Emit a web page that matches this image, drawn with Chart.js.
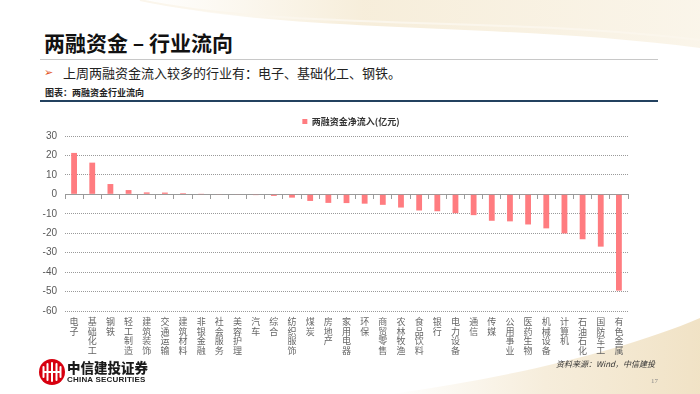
<!DOCTYPE html>
<html>
<head>
<meta charset="utf-8">
<script src="https://cdn.jsdelivr.net/npm/chart.js@4"></script>
<style>
  html, body { margin: 0; padding: 0; }
  body { width: 700px; height: 394px; position: relative; overflow: hidden; background: #fff; font-family: "Noto Sans CJK SC", sans-serif; }
  .abs { position: absolute; white-space: nowrap; }
  #bg { position: absolute; left: 0; top: 0; }
  #title { left: 44px; top: 32px; font-size: 21px; font-weight: bold; line-height: 21px; color: #111; }
  #rule1 { left: 40px; top: 59px; width: 618px; height: 1px; background: #c8c8c8; }
  #arrow { left: 44px; top: 66px; font-family: "DejaVu Sans"; font-size: 11px; line-height: 14px; color: #e2521d; }
  #bullet { left: 63px; top: 65px; font-size: 13px; line-height: 16px; color: #222; }
  #caption { left: 45px; top: 87px; font-size: 9px; line-height: 12px; font-weight: bold; color: #222; }
  #rule2 { left: 40px; top: 99.5px; width: 618px; height: 2.5px; background: #23415f; }
  #source { right: 45px; top: 358px; font-size: 8px; line-height: 12px; font-style: italic; color: #333; }
  #page { left: 651px; top: 376px; font-size: 7px; line-height: 10px; color: #888; font-family: "Liberation Serif"; }
  #logo { left: 38px; top: 358px; }
  #brand { left: 67px; top: 360px; font-size: 13.5px; line-height: 15px; font-weight: 900; color: #1a1a1a; }
  #brandEn { left: 67px; top: 375px; font-size: 8px; line-height: 9px; font-weight: bold; color: #222; font-family: "Liberation Sans"; letter-spacing: 0.2px; }
  #chartBox { position: absolute; left: 0; top: 107px; width: 700px; height: 254px; }
</style>
</head>
<body>
<svg id="bg" width="700" height="394">
  <defs>
    <linearGradient id="gTop" x1="0" y1="0" x2="1" y2="0">
      <stop offset="0" stop-color="#f1e2c2" stop-opacity="0.0"/>
      <stop offset="0.4" stop-color="#f1e2c2" stop-opacity="0.6"/>
      <stop offset="1" stop-color="#f1e2c2" stop-opacity="0.35"/>
    </linearGradient>
    <linearGradient id="gBot" x1="0" y1="0" x2="1" y2="0">
      <stop offset="0" stop-color="#f3e7cf" stop-opacity="0.0"/>
      <stop offset="0.5" stop-color="#f3e7cf" stop-opacity="0.75"/>
      <stop offset="1" stop-color="#efdfbf" stop-opacity="0.9"/>
    </linearGradient>
  </defs>
  <path d="M140,0 C280,34 500,22 700,48 L700,0 Z" fill="url(#gTop)"/>
  <path d="M140,0 C280,30 500,16 700,40" fill="none" stroke="#fbf6ec" stroke-width="2"/>
  <path d="M390,394 C510,378 625,350 700,318 L700,394 Z" fill="url(#gBot)"/>
</svg>

<div id="title" class="abs">两融资金 – 行业流向</div>
<div id="rule1" class="abs"></div>
<div id="arrow" class="abs">➢</div>
<div id="bullet" class="abs">上周两融资金流入较多的行业有：电子、基础化工、钢铁。</div>
<div id="caption" class="abs">图表：两融资金行业流向</div>
<div id="rule2" class="abs"></div>

<div id="chartBox"><canvas id="chart"></canvas></div>

<svg id="logo" class="abs" width="28" height="28" viewBox="0 0 28 28">
  <circle cx="14" cy="14" r="13" fill="#d7000f"/>
  <rect x="4.5" y="8" width="2" height="12" rx="1" fill="#fff"/>
  <rect x="8.5" y="5" width="2" height="18" rx="1" fill="#fff"/>
  <rect x="13" y="4" width="2" height="20" rx="1" fill="#fff"/>
  <rect x="17.5" y="5" width="2" height="18" rx="1" fill="#fff"/>
  <rect x="21.5" y="8" width="2" height="12" rx="1" fill="#fff"/>
  <rect x="6" y="13" width="16" height="2" fill="#fff"/>
</svg>
<div id="brand" class="abs">中信建投证券</div>
<div id="brandEn" class="abs">CHINA SECURITIES</div>

<div id="source" class="abs">资料来源：Wind，中信建投</div>
<div id="page" class="abs">17</div>

<script>
// 行业
const industries = [
  '电子', '基础化工', '钢铁', '轻工制造', '建筑装饰', '交通运输', '建筑材料', '非银金融',
  '社会服务', '美容护理', '汽车', '综合', '纺织服饰', '煤炭', '房地产', '家用电器',
  '环保', '商贸零售', '农林牧渔', '食品饮料', '银行', '电力设备', '通信', '传媒',
  '公用事业', '医药生物', '机械设备', '计算机', '石油石化', '国防军工', '有色金属'
];

// 两融资金净流入(亿元)
const netInflow = [
  21.3, 16.3, 5.3, 2.2, 1.0, 0.9, 0.6, 0.1,
  -0.2, -0.3, -0.4, -0.8, -1.7, -3.4, -4.4, -4.5,
  -4.8, -5.4, -6.8, -8.3, -8.7, -9.7, -10.7, -13.6,
  -13.9, -15.5, -17.5, -20.1, -23.1, -26.9, -49.5
];

const seriesLabel = '两融资金净流入(亿元)';
const yTicks = { min: -60, max: 30, step: 10 };

const barColor = '#ff7c80';
const gridColor = '#9a9a9a';
const tickColor = '#595959';

// 竖排标签：每个字一行
const verticalLabels = industries.map(name => name.split(''));

const ctx = document.getElementById('chart').getContext('2d');
new Chart(ctx, {
  type: 'bar',
  data: {
    labels: verticalLabels,
    datasets: [{
      label: seriesLabel,
      data: netInflow,
      backgroundColor: barColor,
      borderWidth: 0,
      barPercentage: 0.32,
      categoryPercentage: 1,
      xAxisID: 'x',
      yAxisID: 'y'
    }]
  },
  options: {
    responsive: true,
    maintainAspectRatio: false,
    animation: false,
    layout: { padding: { left: 30, right: 28, top: 0, bottom: 0 } },
    plugins: {
      tooltip: { enabled: false },
      legend: {
        position: 'top',
        labels: {
          boxWidth: 5,
          boxHeight: 5,
          padding: 10,
          color: '#333',
          font: { family: '"Noto Sans CJK SC"', size: 9, weight: 'bold' }
        }
      }
    },
    scales: {
      x: {
        type: 'category',
        position: 'bottom',
        grid: { display: false },
        border: { display: false },
        ticks: {
          autoSkip: false,
          maxRotation: 0,
          minRotation: 0,
          padding: -2,
          color: '#666',
          font: { family: '"Noto Sans CJK SC"', size: 9, lineHeight: 1.07 }
        },
        afterFit(scale) { scale.height = 50; }
      },
      // 零轴（带刻度线）
      x2: {
        type: 'category',
        position: { y: 0 },
        offset: true,
        grid: { display: true, offset: true, drawOnChartArea: false, drawTicks: true, tickLength: 4, tickColor: gridColor },
        border: { display: true, color: gridColor, width: 1 },
        ticks: { display: false }
      },
      y: {
        min: yTicks.min,
        max: yTicks.max,
        grid: { color: gridColor, drawTicks: false, lineWidth: 1 },
        border: { display: false, dash: [1, 1] },
        ticks: {
          stepSize: yTicks.step,
          padding: 8,
          color: tickColor,
          font: { family: '"Liberation Sans Narrow", "Liberation Sans"', size: 10 }
        },
        afterFit(scale) { scale.width = 35; }
      },
      // 右侧占位，让图例居中于页面
      yPad: {
        position: 'right',
        display: true,
        grid: { display: false },
        border: { display: false },
        ticks: { display: false },
        afterFit(scale) { scale.width = 44; }
      }
    }
  }
});
</script>
</body>
</html>
